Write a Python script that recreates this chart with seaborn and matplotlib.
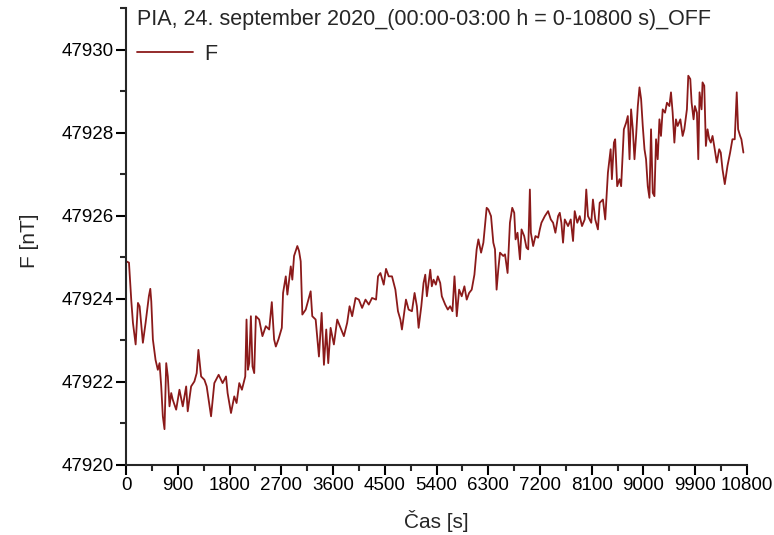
import numpy as np
import pandas as pd
import matplotlib
matplotlib.use('Agg')
import matplotlib.pyplot as plt
from matplotlib.ticker import MultipleLocator
import seaborn as sns

# time [s] and F offset from 47920 nT
cas = [3, 49, 90, 118, 165, 205, 234, 291, 338, 395, 420, 437, 465, 511, 551, 581, 610, 638, 667, 697,
       725, 754, 784, 811, 870, 927, 985, 1044, 1071, 1130, 1187, 1227, 1257, 1304, 1361, 1401, 1477, 1534,
       1609, 1678, 1737, 1765, 1824, 1881, 1921, 1968, 2014, 2072, 2094, 2118, 2141, 2170, 2198, 2228, 2257,
       2314, 2371, 2430, 2488, 2534, 2574, 2604, 2649, 2708, 2730, 2777, 2805, 2864, 2891, 2921, 2978, 3008,
       3037, 3065, 3124, 3210, 3238, 3297, 3354, 3401, 3441, 3481, 3516, 3557, 3614, 3672, 3730, 3788, 3845,
       3887, 3932, 3991, 4048, 4105, 4164, 4221, 4278, 4348, 4382, 4424, 4481, 4521, 4568, 4625, 4684, 4729,
       4771, 4798, 4845, 4868, 4914, 4972, 5018, 5058, 5088, 5135, 5174, 5204, 5232, 5261, 5291, 5318, 5348,
       5388, 5422, 5464, 5492, 5551, 5596, 5637, 5677, 5712, 5734, 5752, 5793, 5838, 5885, 5925, 5967, 6012,
       6059, 6098, 6128, 6175, 6215, 6272, 6301, 6348, 6388, 6417, 6445, 6474, 6504, 6561, 6591, 6636, 6677,
       6717, 6752, 6775, 6809, 6851, 6879, 6925, 6965, 6995, 7024, 7041, 7081, 7121, 7168, 7197, 7225, 7284,
       7341, 7388, 7428, 7468, 7515, 7544, 7572, 7601, 7631, 7688, 7735, 7775, 7804, 7849, 7891, 7931, 7978,
       8005, 8035, 8092, 8121, 8161, 8208, 8238, 8295, 8335, 8382, 8429, 8451, 8486, 8508, 8543, 8584, 8612,
       8659, 8699, 8728, 8758, 8785, 8815, 8844, 8872, 8902, 8931, 8959, 8988, 9018, 9045, 9075, 9104, 9132,
       9162, 9191, 9219, 9248, 9278, 9305, 9335, 9375, 9409, 9451, 9479, 9508, 9538, 9565, 9595, 9642, 9682,
       9711, 9756, 9780, 9815, 9838, 9872, 9895, 9930, 9954, 9976, 10011, 10028, 10058, 10086, 10115, 10145,
       10172, 10202, 10231, 10276, 10318, 10345, 10375, 10415, 10462, 10508, 10548, 10588, 10623, 10647,
       10682, 10704, 10739]

f_off = [4.90, 4.87, 3.94, 3.42, 2.90, 3.90, 3.82, 2.94, 3.42, 4.06, 4.24, 3.94, 3.02, 2.53, 2.29, 2.45, 1.89,
         1.17, 0.86, 2.45, 2.13, 1.41, 1.73, 1.57, 1.33, 1.81, 1.41, 1.89, 1.29, 1.89, 2.01, 2.21, 2.77, 2.13,
         2.05, 1.89, 1.17, 1.97, 2.17, 1.97, 2.13, 1.73, 1.25, 1.65, 1.49, 1.97, 1.81, 2.13, 3.50, 2.29, 2.45,
         3.58, 2.37, 2.21, 3.58, 3.50, 3.10, 3.34, 3.26, 3.92, 3.02, 2.85, 3.02, 3.30, 4.14, 4.54, 4.10, 4.78,
         4.46, 5.03, 5.27, 5.15,
         4.90, 3.62, 3.74, 4.18, 3.58, 3.50, 2.61, 3.66, 2.41, 3.26, 2.45, 3.30, 2.90, 3.50, 3.30, 3.10, 3.42,
         3.82, 3.58, 4.02, 3.98, 3.78, 3.98, 3.86, 4.02, 3.98, 4.54, 4.62, 4.34, 4.72, 4.54, 4.54, 4.22, 3.70,
         3.50, 3.26, 3.74, 3.98, 3.74, 3.70, 4.14, 3.82, 3.30, 3.82, 4.38, 4.58, 4.06, 4.38, 4.70, 4.30, 4.46,
         4.34, 4.54, 4.38, 4.06, 3.86, 3.74, 3.82, 3.70, 4.54, 4.06, 3.58, 4.22, 4.06, 4.30, 3.98, 4.14, 4.22,
         4.58, 5.19, 5.43,
         5.11, 5.35, 6.19, 6.15, 5.99, 5.35, 5.19, 4.22, 4.70, 5.11, 5.03, 5.07, 4.62, 5.83, 6.19, 6.07, 5.43,
         5.59, 4.95, 5.67, 5.51, 5.23, 5.19, 6.63, 5.59, 5.27, 5.51, 5.47, 5.67, 5.83, 5.99, 6.11, 5.91, 5.83,
         5.59, 5.99, 6.07, 5.83, 5.35, 5.91, 5.75, 5.91, 5.39, 6.11, 5.83, 5.99, 5.75, 5.91, 6.63, 5.99, 5.83,
         6.39, 5.91, 5.67, 6.31, 6.39, 5.91,
         7.04, 7.60, 6.88, 7.76, 7.84, 6.71, 6.88, 6.71, 8.08, 8.24, 8.40, 7.36, 8.56, 8.08, 7.36, 7.92, 8.64,
         9.09, 8.81, 8.16, 7.60, 7.36, 6.71, 6.43, 8.08, 6.55, 6.47, 7.84, 7.36, 8.32, 7.92, 8.56, 8.48, 8.72,
         8.64, 8.97, 8.48, 7.76, 8.32, 8.16, 8.32, 7.92, 8.08, 8.56, 9.37, 9.29, 8.72, 8.32, 8.64, 8.48, 7.36,
         8.97, 8.56, 9.21, 9.13, 7.68, 8.08, 7.84, 7.76, 7.92, 7.68, 7.28, 7.60, 7.52, 7.12, 6.76, 7.20, 7.52,
         7.84, 7.84, 8.97, 8.08, 7.92, 7.84, 7.52]

base = 47920
title = 'PIA, 24. september 2020_(00:00-03:00 h = 0-10800 s)_OFF'

df = pd.DataFrame({'Cas': cas, 'F': np.array(f_off) + base})

sns.set_style('ticks')
plt.rcParams['font.family'] = ['Liberation Sans', 'DejaVu Sans']

fig = plt.figure(figsize=(7.74, 5.35), dpi=100)
ax = fig.add_axes([0.163, 0.131, 0.802, 0.854])

sns.lineplot(data=df, x='Cas', y='F', color='#8b1a1a', linewidth=1.3, ax=ax, label='F')

ax.set_xlim(0, 10800)
ax.set_ylim(47920, 47931)
ax.xaxis.set_major_locator(MultipleLocator(900))
ax.xaxis.set_minor_locator(MultipleLocator(450))
ax.yaxis.set_major_locator(MultipleLocator(2))
ax.yaxis.set_minor_locator(MultipleLocator(1))
ax.ticklabel_format(useOffset=False, axis='y')

for s in ['top', 'right']:
    ax.spines[s].set_visible(False)
for s in ['left', 'bottom']:
    ax.spines[s].set_linewidth(1.5)
ax.tick_params(which='major', direction='out', length=7, width=1.5, labelsize=13.5,
               colors='black', pad=2)
ax.tick_params(which='minor', direction='out', length=4, width=1.5)

ax.set_xlabel('Čas [s]', fontsize=15)
ax.set_ylabel('F [nT]', fontsize=15)
ax.xaxis.set_label_coords(0.5, -0.098)
ax.yaxis.set_label_coords(-0.14, 0.49)

leg = ax.legend(title=title, loc='upper left', bbox_to_anchor=(0.018, 0.998), frameon=False,
                fontsize=15.5, title_fontsize=15.5, alignment='left', handlelength=2.6,
                borderaxespad=0, borderpad=0, handletextpad=0.5, labelspacing=0.5)
leg._legend_box.sep = 10

plt.savefig('out.png', dpi=100)
